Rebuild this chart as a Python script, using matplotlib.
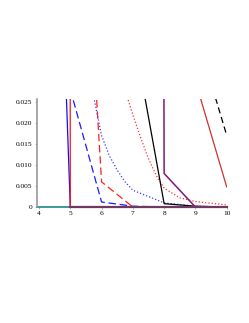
import matplotlib
matplotlib.use("Agg")
import matplotlib.pyplot as plt

# series (x, y pairs)
teal_x = [3.93, 5]
teal_y = [0, 0]

blue_x = [4, 5, 10]
blue_y = [0.21, 0, 0]

red_x = [4, 5, 10]
red_y = [10.0, 0, 0]

blue_dash_x = [5, 6, 7, 8, 10]
blue_dash_y = [0.028, 0.0012, 0.0002, 0, 0]

red_dash_x = [5, 6, 7, 10]
red_dash_y = [0.13, 0.006, 0, 0]

blue_dot_x = [5.5, 5.77, 6, 6.25, 6.5, 6.75, 7, 7.5, 8, 9, 10]
blue_dot_y = [0.04, 0.0255, 0.017, 0.0122, 0.0088, 0.006, 0.004, 0.0025, 0.001, 0.0002, 0]

red_dot_x = [6.7, 6.85, 7, 7.25, 7.5, 7.75, 8, 8.5, 9, 9.5, 10]
red_dot_y = [0.03, 0.0255, 0.022, 0.0165, 0.0115, 0.0075, 0.0045, 0.0022, 0.0013, 0.0009, 0.0005]

black_x = [7, 8, 9, 10]
black_y = [0.042, 0.0008, 0.0002, 0]

purple_x = [7, 8, 9, 10]
purple_y = [3.0, 0.008, 0, 0]

darkred_x = [9, 10]
darkred_y = [0.030, 0.0048]

black_dash_x = [9, 10]
black_dash_y = [0.042, 0.0171]

# overlapping zero segments of the remaining curves
base_x = [5, 10]
base_y = [0, 0]

xticks = [4, 5, 6, 7, 8, 9, 10]
yticks = [0, 0.005, 0.010, 0.015, 0.020, 0.025]
ytick_labels = ["0", "0.005", "0.010", "0.015", "0.020", "0.025"]

plt.rcParams["font.family"] = ["Liberation Serif", "DejaVu Serif"]

fig = plt.figure(figsize=(2.49, 3.23), dpi=100)
ax = fig.add_axes([0.1474, 0.359, 0.763, 0.334])

lw = 0.9
ax.plot(teal_x, teal_y, color="#3a9a9a", lw=1.4, clip_on=False)
ax.plot(blue_dash_x, blue_dash_y, color="#1a1aff", lw=lw, dashes=(6, 3))
ax.plot(red_dash_x, red_dash_y, color="#ff2020", lw=lw, dashes=(6, 3))
ax.plot(blue_dot_x, blue_dot_y, color="#3a3aff", lw=lw, dashes=(1, 1.6))
ax.plot(red_dot_x, red_dot_y, color="#ff3030", lw=lw, dashes=(1, 1.6))
ax.plot(black_x, black_y, color="black", lw=lw)
ax.plot(darkred_x, darkred_y, color="#d03030", lw=lw)
ax.plot(black_dash_x, black_dash_y, color="black", lw=lw, dashes=(5, 3))
ax.plot(blue_x, blue_y, color="#1010ff", lw=lw)
ax.plot(red_x, red_y, color="#ff1010", lw=lw)
ax.plot(purple_x, purple_y, color="#7a1a7a", lw=1.1)
ax.plot(base_x, base_y, color="#6e3a62", lw=1.6, clip_on=False)

ax.set_xlim(3.926, 10)
ax.set_ylim(0, 0.0257)

for s in ["top", "right", "bottom"]:
    ax.spines[s].set_visible(False)
ax.spines["left"].set_color("#999999")
ax.spines["left"].set_linewidth(1.2)

ax.set_xticks(xticks)
ax.set_yticks(yticks)
ax.set_yticklabels(ytick_labels)
ax.tick_params(axis="both", labelsize=5.3, length=1.5, width=0.5, color="#999999", pad=1.5)

fig.savefig("out.png", dpi=100)
